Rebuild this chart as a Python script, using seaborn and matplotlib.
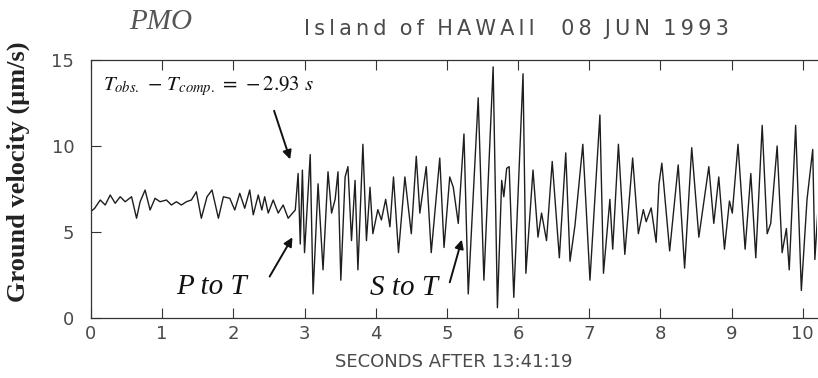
import matplotlib
matplotlib.use("Agg")
import matplotlib.pyplot as plt
import seaborn as sns
import pandas as pd

# Seismogram trace at station PMO: time (s after 13:41:19) and ground velocity (um/s)
t_pre = [0.00, 0.05, 0.13, 0.20, 0.27, 0.34, 0.41, 0.48, 0.57, 0.64, 0.69, 0.76, 0.83, 0.90,
         0.97, 1.06, 1.13, 1.20, 1.27, 1.34, 1.41, 1.48, 1.55, 1.63, 1.70, 1.79, 1.86, 1.95,
         2.02, 2.09, 2.16, 2.23, 2.28, 2.35, 2.40, 2.44, 2.49, 2.56, 2.63, 2.70, 2.77, 2.87]
v_pre = [6.2, 6.37, 6.86, 6.57, 7.15, 6.67, 7.05, 6.76, 7.05, 5.8, 6.76, 7.44, 6.28, 6.96,
         6.76, 6.86, 6.57, 6.76, 6.57, 6.76, 6.86, 7.34, 5.8, 7.05, 7.44, 5.8, 7.05, 6.96,
         6.28, 7.25, 6.38, 7.44, 6.0, 7.15, 6.28, 7.05, 6.1, 6.86, 6.1, 6.57, 5.8, 6.28]

t_p = [2.91, 2.94, 2.97, 3.00, 3.08, 3.12, 3.19, 3.26, 3.33, 3.38, 3.43, 3.47, 3.51, 3.57,
       3.61, 3.66, 3.71, 3.75, 3.82, 3.87, 3.92, 3.96, 4.03, 4.08, 4.14, 4.20, 4.25, 4.32,
       4.41, 4.50, 4.57, 4.62, 4.71, 4.78, 4.90, 4.96, 5.04, 5.09, 5.16]
v_p = [8.4, 4.3, 8.6, 3.8, 9.5, 1.4, 7.8, 2.8, 8.5, 6.1, 6.9, 8.5, 2.2, 8.2,
       8.8, 4.5, 8.0, 2.8, 10.1, 4.5, 7.6, 4.9, 6.3, 5.7, 6.9, 5.3, 8.2, 3.8,
       8.2, 4.9, 9.4, 6.1, 8.8, 3.8, 9.3, 4.1, 8.2, 7.6, 5.5]

t_s = [5.24, 5.30, 5.44, 5.52, 5.65, 5.71, 5.77, 5.80, 5.84, 5.875, 5.94, 6.07, 6.11, 6.21,
       6.28, 6.33, 6.40, 6.48, 6.58, 6.67, 6.73, 6.80, 6.91, 7.01, 7.15, 7.20, 7.29, 7.33,
       7.41, 7.50, 7.61, 7.69, 7.76, 7.80, 7.87, 7.94, 7.98]
v_s = [10.7, 1.4, 12.8, 2.2, 14.6, 0.6, 8.0, 7.05, 8.7, 8.8, 1.2, 14.2, 2.6, 8.6,
       4.7, 6.1, 4.5, 9.1, 3.5, 9.6, 3.3, 5.4, 10.1, 2.2, 11.8, 2.6, 6.9, 4.0,
       10.1, 3.7, 9.3, 4.9, 6.3, 5.6, 6.4, 4.4, 7.8]

t_coda = [8.02, 8.13, 8.25, 8.34, 8.44, 8.54, 8.68, 8.75, 8.82, 8.90, 8.97, 9.01, 9.09, 9.19,
          9.27, 9.34, 9.43, 9.50, 9.55, 9.64, 9.71, 9.77, 9.81, 9.90, 9.98, 10.06, 10.14,
          10.17, 10.21]
v_coda = [9.0, 3.9, 8.9, 2.9, 9.9, 4.7, 8.8, 5.5, 8.2, 4.0, 6.8, 6.1, 10.1, 4.0,
          8.4, 3.5, 11.2, 4.9, 5.5, 10.0, 3.8, 5.2, 2.8, 11.2, 1.6, 6.9, 9.8,
          3.4, 6.1]

x_ticks = list(range(0, 11))
y_ticks = [0, 5, 10, 15]

station = "PMO"
header_words = ["Island", "of", "HAWAII", "", "08", "JUN", "1993"]

trace = pd.DataFrame({
    "time": t_pre + t_p + t_s + t_coda,
    "velocity": v_pre + v_p + v_s + v_coda,
})

sns.set_theme(style="ticks")
plt.rcParams["mathtext.fontset"] = "stix"
plt.rcParams["font.family"] = ["DejaVu Sans"]

W, H = 818, 378
fig = plt.figure(figsize=(W / 100, H / 100), dpi=100)
ax = fig.add_axes([91 / W, 1 - 318 / H, 726 / W, 258 / H])

sns.lineplot(data=trace, x="time", y="velocity", ax=ax, color="#1e1e1e",
             linewidth=1.0, estimator=None, sort=False)
for ln in ax.get_lines():
    ln.set_solid_joinstyle("round")

ax.set_xlim(0, 10.2)
ax.set_ylim(0, 15)
ax.set_xticks(x_ticks)
ax.set_yticks(y_ticks)
tick_font = dict(family="DejaVu Sans", size=13, color="#4a4a4a")
ax.set_xticklabels([str(v) for v in x_ticks], **tick_font)
ax.set_yticklabels([str(v) for v in y_ticks], **tick_font)
ax.tick_params(axis="both", direction="in", length=7, width=0.8, color="#333333",
               top=True)
ax.tick_params(axis="x", pad=5)
ax.tick_params(axis="y", pad=12)
for side in ("left", "bottom", "top"):
    ax.spines[side].set_color("#333333")
    ax.spines[side].set_linewidth(0.9)
ax.spines["right"].set_visible(False)

ax.set_xlabel("SECONDS AFTER 13:41:19", family="DejaVu Sans", size=13,
              color="#4a4a4a", labelpad=7)
ax.set_ylabel("Ground velocity (\u03bcm/s)", family="Liberation Serif",
              weight="bold", size=19, color="#222222")
ax.yaxis.set_label_coords(-0.084, 0.566)

fig.text(161 / W, 1 - 22 / H, station, family="Liberation Serif", style="italic",
         size=21, color="#555555", ha="center", va="center")
# Plotter-style header: widely tracked letters
header = "  ".join("\u2009".join(w) for w in header_words)
fig.text(516 / W, 1 - 29 / H, header, family="DejaVu Sans", size=15,
         color="#4a4a4a", ha="center", va="center")

ax.text(0.17, 13.25, r"$T_{obs.}\,-\,T_{comp.}\,=\,-2.93\ s$", size=15,
        color="#111111", ha="left", va="baseline")
arrow_style = dict(arrowstyle="-|>", color="#111111", lw=1.4, mutation_scale=13)
ax.annotate("", xy=(2.81, 9.07), xytext=(2.56, 12.2), arrowprops=arrow_style)
ax.annotate("", xy=(2.85, 4.83), xytext=(2.49, 2.27), arrowprops=arrow_style)
ax.annotate("", xy=(5.22, 4.71), xytext=(5.03, 1.92), arrowprops=arrow_style)
ax.text(1.69, 1.8, "P to T", family="Liberation Serif", style="italic", size=21,
        color="#111111", ha="center", va="center")
ax.text(4.4, 1.76, "S to T", family="Liberation Serif", style="italic", size=21,
        color="#111111", ha="center", va="center")

fig.savefig("out.png", dpi=100)
